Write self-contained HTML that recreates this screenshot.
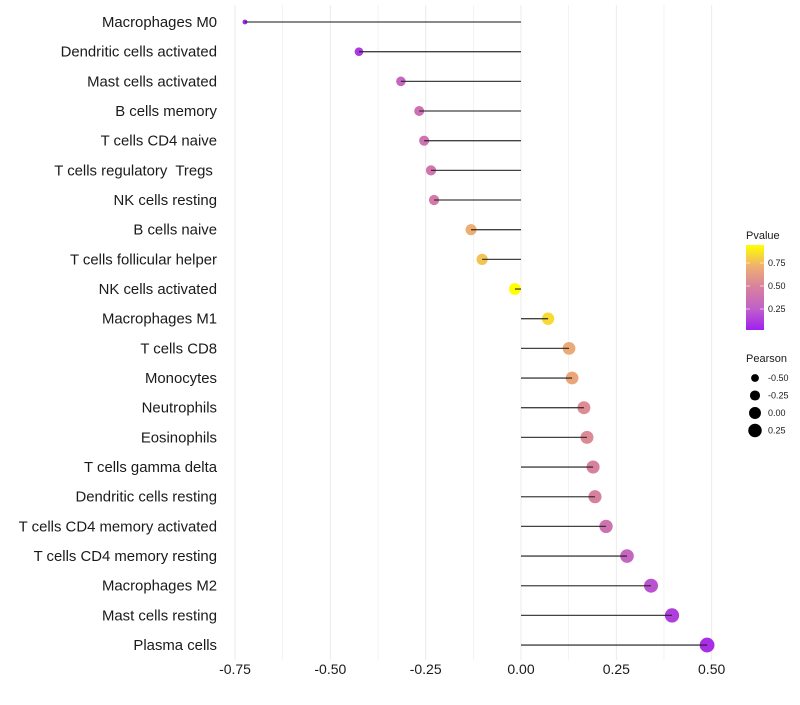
<!DOCTYPE html>
<html><head><meta charset="utf-8"><style>
body{margin:0;background:#fff;font-family:"Liberation Sans",sans-serif}
svg text{font-family:"Liberation Sans",sans-serif;white-space:pre}
</style></head><body>
<svg id="c" width="800" height="700"></svg>
<script>
const categories=["Macrophages M0","Dendritic cells activated","Mast cells activated","B cells memory","T cells CD4 naive","T cells regulatory  Tregs ","NK cells resting","B cells naive","T cells follicular helper","NK cells activated","Macrophages M1","T cells CD8","Monocytes","Neutrophils","Eosinophils","T cells gamma delta","Dendritic cells resting","T cells CD4 memory activated","T cells CD4 memory resting","Macrophages M2","Mast cells resting","Plasma cells"];
const pearson=[-0.724,-0.425,-0.315,-0.267,-0.254,-0.236,-0.228,-0.131,-0.102,-0.016,0.071,0.126,0.134,0.165,0.173,0.189,0.194,0.223,0.278,0.341,0.396,0.488];
const pvalue=[0.02,0.1,0.3,0.38,0.4,0.42,0.45,0.74,0.8,0.95,0.86,0.72,0.7,0.56,0.55,0.5,0.5,0.4,0.3,0.2,0.12,0.06];
const xTicks=[-0.75,-0.5,-0.25,0,0.25,0.5];
const xTickLabels=["-0.75","-0.50","-0.25","0.00","0.25","0.50"];
const legendP=[0.75,0.5,0.25];
const legendPLabels=["0.75","0.50","0.25"];
const legendR=[-0.5,-0.25,0,0.25];
const legendRLabels=["-0.50","-0.25","0.00","0.25"];

const NS="http://www.w3.org/2000/svg",svg=document.getElementById('c');
const x=v=>521+v*381.3;
const y=i=>22+i*29.67;
const r=v=>Math.sqrt(Math.max(1,30.9+37.1*v))+0.4;
const stops=[[0,[160,32,240]],[0.25,[192,96,200]],[0.5,[216,128,160]],[0.75,[238,176,112]],[0.95,[255,255,0]]];
function col(p){p=Math.max(0,Math.min(0.95,p));for(let k=1;k<stops.length;k++){if(p<=stops[k][0]){const a=stops[k-1],b=stops[k],t=(p-a[0])/(b[0]-a[0]);return 'rgb('+a[1].map((c,j)=>Math.round(c+(b[1][j]-c)*t)).join(',')+')';}}return 'rgb(255,255,0)';}
function el(t,a,p){const e=document.createElementNS(NS,t);for(const k in a)e.setAttribute(k,a[k]);(p||svg).appendChild(e);return e;}

for(let v=-0.75;v<=0.51;v+=0.125){const g=el('line',{x1:x(v),x2:x(v),y1:5,y2:660,stroke:'#ebebeb','stroke-width':Math.abs((v/0.25)-Math.round(v/0.25))<0.01?1:0.6});

}
xTicks.forEach((v,i)=>{const t=el('text',{x:x(v),y:674,'text-anchor':'middle','font-size':14,fill:'#1a1a1a'});t.textContent=xTickLabels[i];

});
categories.forEach((c,i)=>{
const t=el('text',{x:217,y:y(i)+5,'text-anchor':'end','font-size':14.9,fill:'#1a1a1a'});t.textContent=c;


const d=el('circle',{cx:x(pearson[i]),cy:y(i),r:r(pearson[i]),fill:col(pvalue[i])});


const l=el('line',{x1:x(0),x2:x(pearson[i]),y1:y(i),y2:y(i),stroke:'#222','stroke-width':1.3,'stroke-opacity':0.85});


});
const defs=el('defs',{});const lg=el('linearGradient',{id:'pg',x1:0,y1:1,x2:0,y2:0},defs);
[[0,'#a020f0'],[0.25,'#c060c8'],[0.5,'#d880a0'],[0.75,'#eeb070'],[1,'#ffff00']].forEach(s=>el('stop',{offset:s[0],'stop-color':s[1]},lg));
const lt=el('text',{x:746,y:239,'font-size':11,fill:'#1a1a1a'});lt.textContent='Pvalue';


const cb=el('rect',{x:746,y:245,width:18,height:85,fill:'url(#pg)'});


const py=p=>309-(p-0.25)*92;
legendP.forEach((p,i)=>{el('line',{x1:746,x2:750,y1:py(p),y2:py(p),stroke:'#fff','stroke-opacity':0.6});el('line',{x1:760,x2:764,y1:py(p),y2:py(p),stroke:'#fff','stroke-opacity':0.6});
const t=el('text',{x:768,y:py(p)+3,'font-size':9,fill:'#1a1a1a'});t.textContent=legendPLabels[i];

});
const rt=el('text',{x:746,y:362,'font-size':11,fill:'#1a1a1a'});rt.textContent='Pearson';


legendR.forEach((v,i)=>{const cy=378+i*17.5;
const c=el('circle',{cx:755,cy:cy,r:r(v),fill:'#000'});


const t=el('text',{x:768,y:cy+3,'font-size':9,fill:'#1a1a1a'});t.textContent=legendRLabels[i];

});
</script>
</body></html>
